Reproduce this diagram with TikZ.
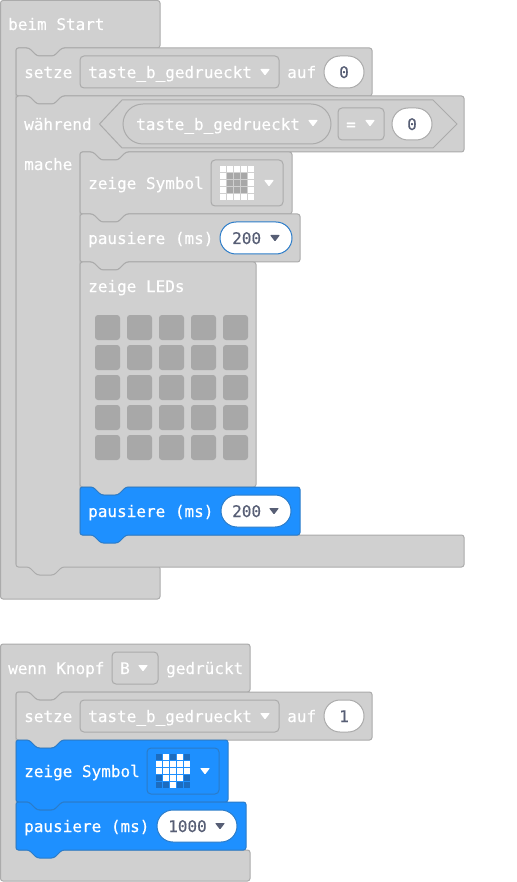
\documentclass[tikz,border=0pt]{standalone}
\usepackage{fontspec}
\setmonofont[FakeBold=0.35]{DejaVu Sans Mono}
\definecolor{blockgrey}{HTML}{D0D0D0}
\definecolor{blockline}{HTML}{ABABAB}
\definecolor{ledgrey}{HTML}{A8A8A8}
\definecolor{blockblue}{HTML}{1E90FF}
\definecolor{blueline}{HTML}{2B7CC9}
\definecolor{ledblue}{HTML}{1C6CBF}
\definecolor{numink}{HTML}{575E75}
\tikzset{
  greyblock/.style={draw=blockline,fill=blockgrey,line width=1pt,rounded corners=2.5pt},
  blueblock/.style={draw=blueline,fill=blockblue,line width=1pt,rounded corners=2.5pt},
  fieldbox/.style={draw=blockline,line width=1pt,rounded corners=4pt},
  bluebox/.style={draw=blueline,line width=1pt,rounded corners=4pt},
  blocktext/.style={anchor=base west,inner sep=0pt,text=white,font=\fontsize{16}{18}\selectfont\ttfamily},
  numtext/.style={blocktext,text=numink},
  numfield/.style={draw=blockline,fill=white,line width=1pt,rounded corners=16pt}
}
% one stacking block, top left corner at x,y
\newcommand{\stackblock}[5]{
  \draw[#1,shift={(#2,#3)}] (0,0) -- (13,0) -- (21,8) -- (38,8) -- (46,0) -- (#4,0) -- (#4,#5)
    -- (46,#5) -- (38,#5+8) -- (21,#5+8) -- (13,#5) -- (0,#5) -- cycle;
}
\newcommand{\caretmark}[3]{
  \fill[#3,rounded corners=0.8pt] (#1-5,#2-3) -- (#1+5,#2-3) -- (#1,#2+3.5) -- cycle;
}
\begin{document}
\begin{tikzpicture}[x=1pt,y=-1pt]
\useasboundingbox (0,0) rectangle (516,882);

% beim Start
\draw[greyblock] (0.5,0.5) -- (160,0.5) -- (160,48) -- (62,48) -- (54,56) -- (37,56) -- (29,48) -- (16,48)
  -- (16,566) -- (160,566) -- (160,599) -- (0.5,599) -- cycle;
\node[blocktext] (startlabel) at (8,30) {beim Start};

% setze
\stackblock{greyblock}{16}{48}{356}{48}
\node[blocktext] (setzeA) at (24,78) {setze};
\draw[fieldbox] (80,56) rectangle (279,88);
\node[blocktext] (varA) at (88,78) {taste\_b\_gedrueckt};
\caretmark{265}{72}{white}
\node[blocktext] (aufA) at (287,78) {auf};
\draw[numfield] (324,56) rectangle (364,88);
\node[numtext] (zeroA) at (339,78) {0};

% waehrend
\draw[greyblock] (16,96) -- (29,96) -- (37,104) -- (54,104) -- (62,96) -- (464,96) -- (464,152)
  -- (126,152) -- (118,160) -- (101,160) -- (93,152) -- (80,152) -- (80,535) -- (464,535) -- (464,567)
  -- (62,567) -- (54,575) -- (37,575) -- (29,567) -- (16,567) -- cycle;
\node[blocktext] (whilelabel) at (24,130) {während};
\node[blocktext] (dolabel) at (24,170) {mache};
\draw[draw=blockline,line width=1pt,fill=blockgrey] (99.5,124) -- (122,100) -- (433,100) -- (457,124) -- (433,148) -- (122,148) -- cycle;
\draw[numfield,fill=blockgrey,rounded corners=20pt] (123,104) rectangle (331,144);
\node[blocktext] (varB) at (136,130) {taste\_b\_gedrueckt};
\caretmark{313}{123}{white}
\draw[fieldbox] (338,108) rectangle (384,140);
\node[blocktext] (equals) at (346,130) {=};
\caretmark{370}{123}{white}
\draw[numfield] (392,108) rectangle (432,140);
\node[numtext] (zeroB) at (407,130) {0};

% zeige Symbol
\stackblock{greyblock}{80}{152}{212}{62}
\node[blocktext] (symbolA) at (88,189) {zeige Symbol};
\draw[fieldbox] (211,160) rectangle (283,206);
\foreach \col in {0,...,4}
  \foreach \row in {0,...,4}
    \fill[white] (220+7*\col,166+7*\row) rectangle +(6,6);
\foreach \col in {1,2,3}
  \foreach \row in {1,2,3}
    \fill[ledgrey] (220+7*\col,166+7*\row) rectangle +(6,6);
\caretmark{269}{183}{white}

% pausiere
\stackblock{greyblock}{80}{214}{220}{48}
\node[blocktext] (pauseA) at (88,244) {pausiere (ms)};
\draw[numfield,draw=blueline] (220,222) rectangle (292,254);
\node[numtext] (twohundredA) at (232,244) {200};
\caretmark{275}{238}{numink}

% zeige LEDs
\stackblock{greyblock}{80}{262}{176}{225}
\node[blocktext] (ledlabel) at (88,292) {zeige LEDs};
\foreach \col in {0,...,4}
  \foreach \row in {0,...,4}
    \fill[ledgrey,rounded corners=3pt] (95+32*\col,315+30*\row) rectangle +(25,25);

% pausiere blau
\stackblock{blueblock}{80}{487}{220}{48}
\node[blocktext] (pauseB) at (88,517) {pausiere (ms)};
\draw[numfield,draw=blueline] (221,495) rectangle (291,527);
\node[numtext] (twohundredB) at (232,517) {200};
\caretmark{274}{511}{numink}

% wenn Knopf
\draw[greyblock] (0.5,644) -- (250,644) -- (250,692) -- (62,692) -- (54,700) -- (37,700) -- (29,692) -- (16,692)
  -- (16,850) -- (250,850) -- (250,881) -- (0.5,881) -- cycle;
\node[blocktext] (knopflabel) at (8,674) {wenn Knopf};
\draw[fieldbox] (112,652) rectangle (158,684);
\node[blocktext] (knopfB) at (120,674) {B};
\caretmark{143}{668}{white}
\node[blocktext] (pressedlabel) at (166,674) {gedrückt};

% setze
\stackblock{greyblock}{16}{692}{356}{48}
\node[blocktext] (setzeB) at (24,722) {setze};
\draw[fieldbox] (80,700) rectangle (279,732);
\node[blocktext] (varC) at (88,722) {taste\_b\_gedrueckt};
\caretmark{265}{716}{white}
\node[blocktext] (aufB) at (287,722) {auf};
\draw[numfield] (324,700) rectangle (364,732);
\node[numtext] (oneA) at (339,722) {1};

% zeige Symbol blau
\stackblock{blueblock}{16}{740}{212}{62}
\node[blocktext] (symbolB) at (24,777) {zeige Symbol};
\draw[bluebox] (147,748) rectangle (219,794);
\foreach \col in {0,...,4}
  \foreach \row in {0,...,4}
    \fill[ledblue] (156+7*\col,754+7*\row) rectangle +(6,6);
\foreach \col/\row in {1/0,3/0,0/1,1/1,2/1,3/1,4/1,0/2,1/2,2/2,3/2,4/2,1/3,2/3,3/3,2/4}
  \fill[white] (156+7*\col,754+7*\row) rectangle +(6,6);
\caretmark{205}{771}{white}

% pausiere blau
\stackblock{blueblock}{16}{802}{230}{48}
\node[blocktext] (pauseC) at (24,832) {pausiere (ms)};
\draw[numfield,draw=blueline] (157,810) rectangle (237,842);
\node[numtext] (thousand) at (168,832) {1000};
\caretmark{220}{826}{numink}
\end{tikzpicture}
\end{document}
